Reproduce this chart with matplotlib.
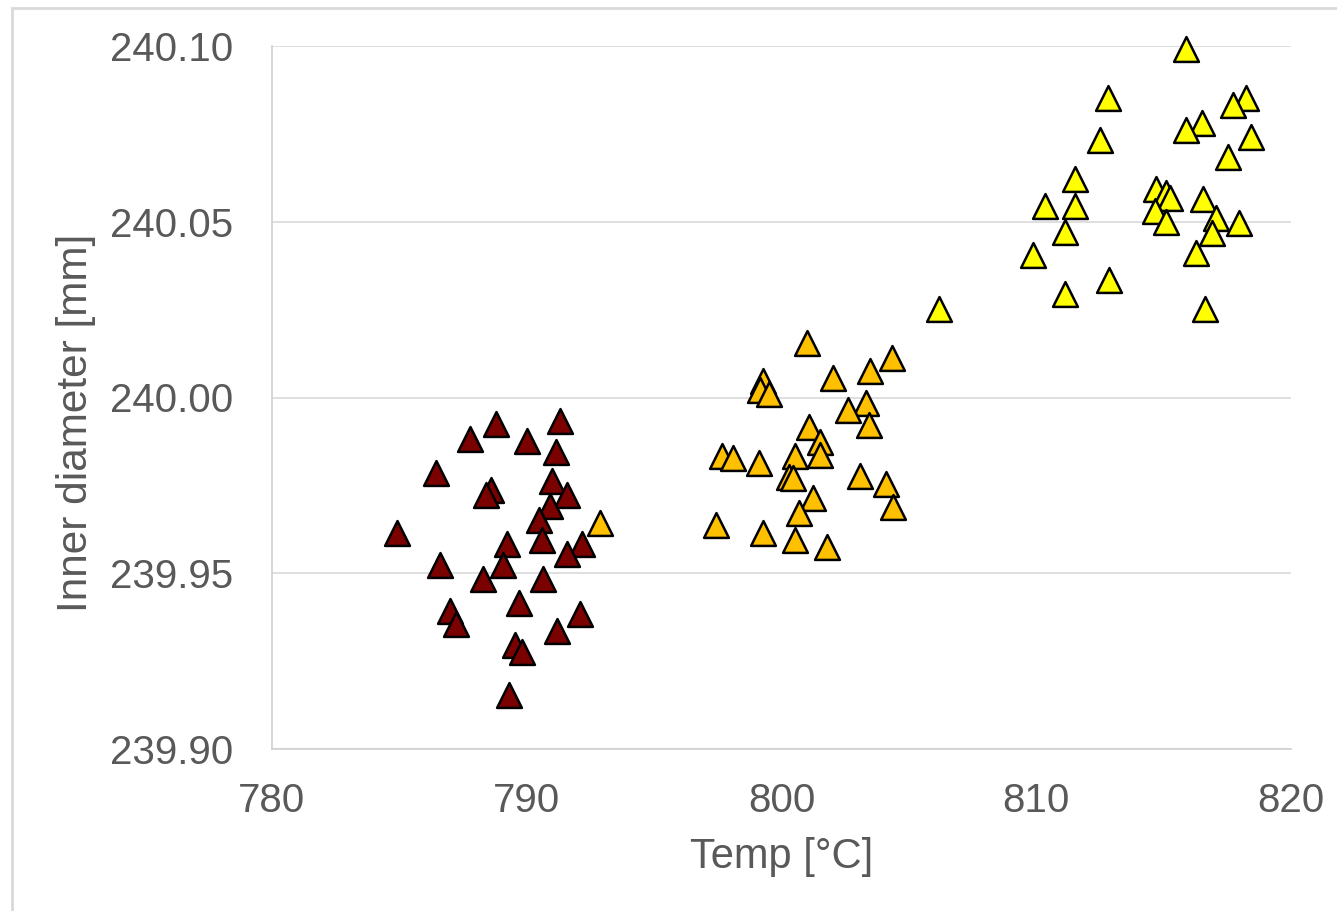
import matplotlib.pyplot as plt
from matplotlib.patches import Rectangle

plt.rcParams['font.family'] = ['Liberation Sans', 'DejaVu Sans']

# dark red group (~790 °C)
t_low = [788.79, 791.31, 787.77, 790.01, 791.15, 786.44, 790.99, 788.60, 788.40,
         791.58, 790.91, 790.48, 784.91, 790.60, 789.22, 792.17, 791.58, 786.59,
         789.07, 788.28, 790.64, 789.70, 786.99, 787.22, 792.09, 791.19, 789.54,
         789.81, 789.30]
d_low = [239.9925, 239.9933, 239.9882, 239.9876, 239.9845, 239.9785, 239.9762,
         239.9737, 239.9723, 239.9723, 239.9691, 239.9651, 239.9615, 239.9595,
         239.9583, 239.9583, 239.9555, 239.9523, 239.9523, 239.9484, 239.9484,
         239.9415, 239.9393, 239.9356, 239.9384, 239.9336, 239.9296, 239.9276,
         239.9154]

# orange group (~800 °C)
t_mid = [800.99, 804.34, 803.47, 802.02, 799.27, 799.16, 799.51, 803.32, 802.61,
         803.43, 801.08, 801.51, 801.51, 797.66, 798.10, 799.12, 800.53, 800.29,
         800.45, 803.08, 804.10, 801.24, 804.38, 800.69, 797.43, 799.27, 800.53,
         801.79, 792.88]
d_mid = [240.0155, 240.0112, 240.0075, 240.0055, 240.0047, 240.0021, 240.0010,
         239.9984, 239.9964, 239.9922, 239.9916, 239.9873, 239.9836, 239.9834,
         239.9828, 239.9814, 239.9834, 239.9774, 239.9771, 239.9777, 239.9754,
         239.9714, 239.9688, 239.9671, 239.9637, 239.9615, 239.9595, 239.9575,
         239.9643]

# yellow group (~815 °C)
t_high = [815.88, 812.82, 818.23, 817.72, 816.51, 815.88, 812.50, 818.43, 817.53,
          811.52, 814.70, 815.09, 815.25, 814.66, 815.09, 816.55, 810.34, 811.52,
          817.06, 817.96, 811.13, 816.90, 809.87, 816.27, 812.86, 811.13, 816.62,
          806.18]
d_high = [240.0991, 240.0852, 240.0852, 240.0832, 240.0781, 240.0761, 240.0733,
          240.0741, 240.0684, 240.0622, 240.0593, 240.0582, 240.0568, 240.0531,
          240.0499, 240.0565, 240.0545, 240.0545, 240.0511, 240.0496, 240.0471,
          240.0468, 240.0405, 240.0411, 240.0334, 240.0294, 240.0252, 240.0252]

x_ticks = [780, 790, 800, 810, 820]
y_ticks = [239.90, 239.95, 240.00, 240.05, 240.10]

fig = plt.figure(figsize=(13.37, 9.11), dpi=100)
ax = fig.add_axes([272/1337, 1 - 749/911, 1019/1337, 703/911])

grey = '#595959'
mk = dict(marker='^', s=320, edgecolors='black', linewidths=1.8, zorder=3,
          clip_on=False)
ax.scatter(t_low, d_low, c='#7B0000', **mk)
ax.scatter(t_mid, d_mid, c='#FFC000', **mk)
ax.scatter(t_high, d_high, c='#FFFF00', **mk)

ax.set_xlim(780, 820)
ax.set_ylim(239.90, 240.10)
ax.set_xticks(x_ticks)
ax.set_yticks(y_ticks)
ax.set_yticklabels([f'{v:.2f}' for v in y_ticks])
ax.tick_params(length=0, labelsize=29, colors=grey)
ax.tick_params(axis='y', pad=28)
ax.tick_params(axis='x', pad=24)
ax.grid(axis='y', color='#D9D9D9', lw=1.2, zorder=0)
ax.set_axisbelow(True)
for side in ['top', 'right']:
    ax.spines[side].set_visible(False)
for side in ['left', 'bottom']:
    ax.spines[side].set_color('#D0D0D0')
    ax.spines[side].set_linewidth(1.2)

ax.set_xlabel('Temp [°C]', fontsize=30, color=grey)
ax.set_ylabel('Inner diameter [mm]', fontsize=30.5, color=grey)
ax.xaxis.set_label_coords(0.5, -0.154)
ax.xaxis.label.set_verticalalignment('center')
ax.yaxis.set_label_coords(-0.192, 0.464)
ax.yaxis.label.set_verticalalignment('center')
ax.yaxis.label.set_rotation_mode('default')

# thin outer chart border (left and top visible)
fig.add_artist(Rectangle((12/1337, -0.05), 1.1, 1 - 8/911 + 0.05,
                         transform=fig.transFigure, fill=False,
                         edgecolor='#D9D9D9', lw=2))

fig.savefig('out.png', dpi=100)
